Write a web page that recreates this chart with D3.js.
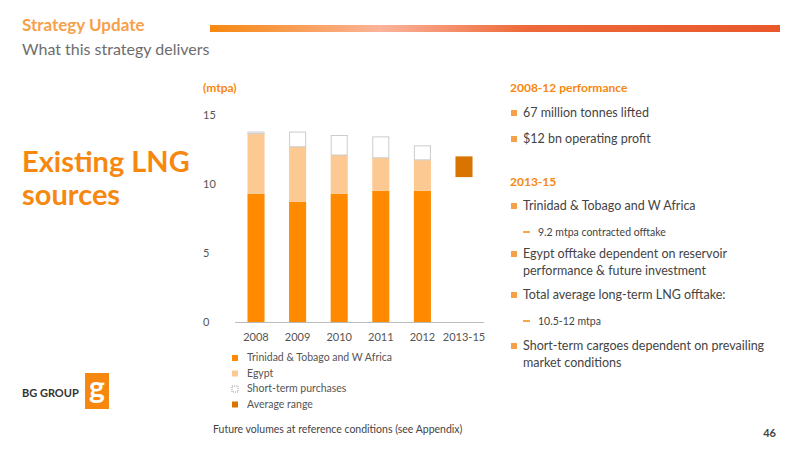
<!DOCTYPE html>
<html><head><meta charset="utf-8">
<script src="https://cdn.jsdelivr.net/npm/d3@7"></script>
<style>body{margin:0;background:#fff}text{font-family:Lato,"Open Sans",sans-serif}</style>
</head><body>
<svg id="c" width="800" height="450"></svg>
<script>
const categories = ["2008","2009","2010","2011","2012","2013-15"];
const trinidad = [9.3, 8.7, 9.3, 9.5, 9.5, null];
const egypt = [4.35, 4.0, 2.8, 2.4, 2.25, null];
const shortTerm = [0.15, 1.1, 1.45, 1.55, 1.05, null];
const avgRange = [null, null, null, null, null, [10.5, 12]];
const yTicks = [0, 5, 10, 15];

const svg = d3.select("#c");
const defs = svg.append("defs");
const g = defs.append("linearGradient").attr("id","hg");
[["0%","#f7880f"],["30%","#fbb39a"],["55%","#ee6a3a"],["100%","#e8582a"]].forEach(([o,c])=>g.append("stop").attr("offset",o).attr("stop-color",c));
svg.append("rect").attr("x",210).attr("y",25).attr("width",570).attr("height",7).attr("fill","url(#hg)");
svg.append("text").attr("x",22).attr("y",31).attr("fill","#f7a04a").attr("font-size",17).attr("font-weight","bold").text("Strategy Update");
svg.append("text").attr("x",22).attr("y",55).attr("fill","#6d6d6d").attr("font-size",16).text("What this strategy delivers");
svg.append("text").attr("x",22).attr("y",172).attr("fill","#f7880f").attr("font-size",29).attr("font-weight","bold").text("Existing LNG");
svg.append("text").attr("x",22).attr("y",205).attr("fill","#f7880f").attr("font-size",29).attr("font-weight","bold").text("sources");

const x = d3.scaleBand().domain(categories).range([235,485]).paddingInner(0.59).paddingOuter(0.3);
const y = d3.scaleLinear().domain([0,15]).range([322,115]);
svg.append("text").attr("x",203).attr("y",92).attr("fill","#f7880f").attr("font-size",12).attr("font-weight","bold").text("(mtpa)");
yTicks.forEach(t=>svg.append("text").attr("x",203).attr("y",y(t)+4).attr("fill","#555").attr("font-size",11).text(t));
svg.append("line").attr("x1",235).attr("x2",484).attr("y1",322.5).attr("y2",322.5).attr("stroke","#bbb");
categories.forEach((c,i)=>svg.append("text").attr("x",x(c)+x.bandwidth()/2).attr("y",341).attr("text-anchor","middle").attr("fill","#555").attr("font-size",11).text(c));

categories.forEach((c,i)=>{
  if(trinidad[i]==null) return;
  const b0=trinidad[i], b1=b0+egypt[i], b2=b1+shortTerm[i];
  svg.append("rect").attr("x",x(c)).attr("width",x.bandwidth()).attr("y",y(b0)).attr("height",y(0)-y(b0)).attr("fill","#ff8a00");
  svg.append("rect").attr("x",x(c)).attr("width",x.bandwidth()).attr("y",y(b1)).attr("height",y(b0)-y(b1)).attr("fill","#fdc993");
  svg.append("rect").attr("x",x(c)+0.5).attr("width",x.bandwidth()-1).attr("y",y(b2)+0.5).attr("height",Math.max(0,y(b1)-y(b2)-0.5)).attr("fill","#fff").attr("stroke","#ccc");
});
categories.forEach((c,i)=>{
  if(!avgRange[i]) return;
  svg.append("rect").attr("x",x(c)).attr("width",x.bandwidth()).attr("y",y(avgRange[i][1])).attr("height",y(avgRange[i][0])-y(avgRange[i][1])).attr("fill","#d97400");
});

const legend=[["Trinidad & Tobago and W Africa","#ff8a00",null],["Egypt","#fdc993",null],["Short-term purchases","#fff","#999"],["Average range","#d97400",null]];
legend.forEach((l,i)=>{
  const yy=361+i*15.5;
  svg.append("rect").attr("x",232).attr("y",yy-6).attr("width",6).attr("height",6).attr("fill",l[1]).attr("stroke",l[2]).attr("stroke-dasharray",l[2]?"1,1":null);
  svg.append("text").attr("x",247).attr("y",yy).attr("fill","#555").attr("font-size",10.5).text(l[0]);
});
svg.append("text").attr("x",213).attr("y",433).attr("fill","#444").attr("font-size",10.5).text("Future volumes at reference conditions (see Appendix)");
svg.append("text").attr("x",776).attr("y",437).attr("text-anchor","end").attr("fill","#444").attr("font-size",11).attr("font-weight","bold").text("46");

// right panel
const rp=[["h","2008-12 performance",92],["b","67 million tonnes lifted",117],["b","$12 bn operating profit",143],["h","2013-15",186],["b","Trinidad & Tobago and W Africa",210],["s","9.2 mtpa contracted offtake",236],["b","Egypt offtake dependent on reservoir",258],["c","performance & future investment",275],["b","Total average long-term LNG offtake:",299],["s","10.5-12 mtpa",325],["b","Short-term cargoes dependent on prevailing",350],["c","market conditions",367]];
rp.forEach(([t,s,yy])=>{
  if(t==="h") svg.append("text").attr("x",510).attr("y",yy).attr("fill","#f7880f").attr("font-size",12).attr("font-weight","bold").text(s);
  if(t==="b"){svg.append("rect").attr("x",511).attr("y",yy-7).attr("width",6).attr("height",6).attr("fill","#f7a04a");
    svg.append("text").attr("x",523).attr("y",yy).attr("fill","#444").attr("font-size",12.5).text(s);}
  if(t==="c") svg.append("text").attr("x",523).attr("y",yy).attr("fill","#444").attr("font-size",12.5).text(s);
  if(t==="s"){svg.append("line").attr("x1",523).attr("x2",530).attr("y1",yy-4).attr("y2",yy-4).attr("stroke","#f7880f").attr("stroke-width",1.5);
    svg.append("text").attr("x",538).attr("y",yy).attr("fill","#444").attr("font-size",10.5).text(s);}
});
// logo
svg.append("text").attr("x",22).attr("y",397).attr("fill","#333").attr("font-size",11).attr("font-weight","bold").text("BG GROUP");
svg.append("rect").attr("x",85).attr("y",373).attr("width",24).attr("height",36).attr("fill","#f7880f");
svg.append("text").attr("x",97).attr("y",398).attr("text-anchor","middle").attr("fill","#fff").attr("font-size",30).attr("font-weight","bold").text("g");
</script></body></html>
